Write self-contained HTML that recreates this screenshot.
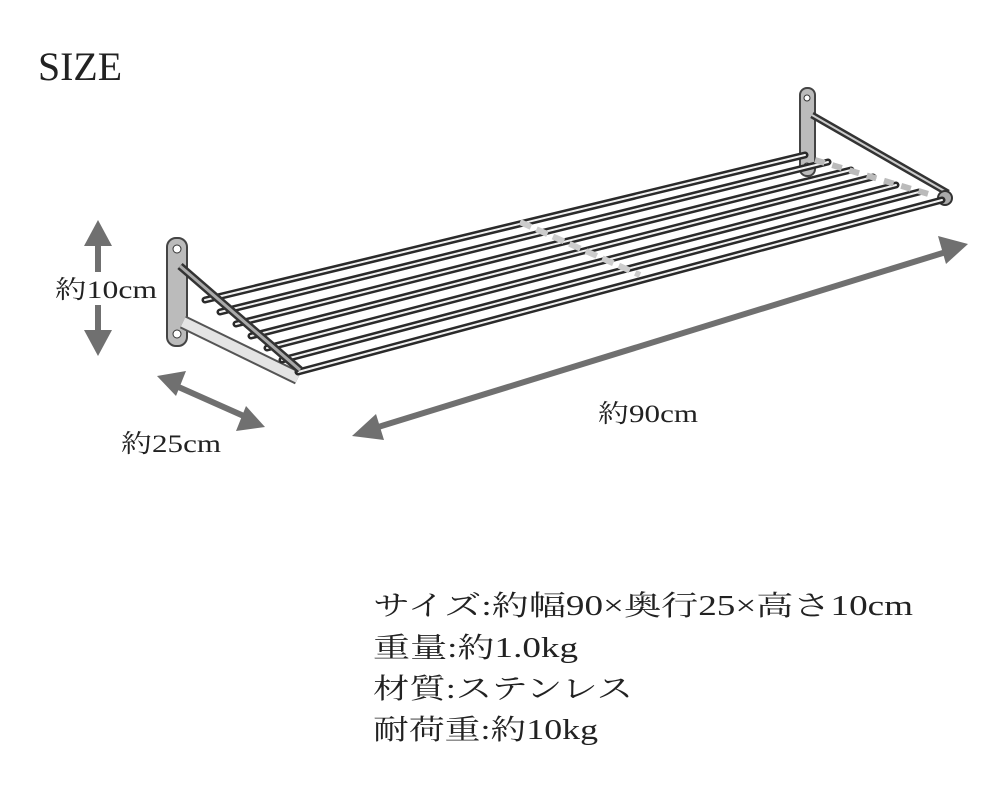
<!DOCTYPE html>
<html><head><meta charset="utf-8"><style>
html,body{margin:0;padding:0;background:#fff;}
svg{display:block}
text{font-family:"Liberation Serif","Noto Serif CJK JP",serif;fill:#222;}
</style></head><body>
<svg width="1000" height="800" viewBox="0 0 1000 800">
<text x="38" y="80" font-size="40" textLength="84" lengthAdjust="spacingAndGlyphs">SIZE</text>

<!-- right bracket -->
<rect x="800" y="88" width="15" height="88" rx="7" fill="#bbb" stroke="#444" stroke-width="2"/>
<circle cx="807" cy="98" r="3" fill="#fff" stroke="#333"/>
<circle cx="807" cy="166" r="3" fill="#fff" stroke="#333"/>
<line x1="812" y1="115" x2="948" y2="193" stroke="#333" stroke-width="7"/>
<line x1="812" y1="115" x2="948" y2="193" stroke="#ccc" stroke-width="2"/>
<circle cx="945" cy="198" r="7" fill="#aaa" stroke="#333" stroke-width="2"/>

<!-- left bracket plate -->
<rect x="167" y="238" width="20" height="108" rx="9" fill="#bbb" stroke="#444" stroke-width="2"/>
<circle cx="177" cy="249" r="4" fill="#fff" stroke="#333"/>
<circle cx="177" cy="334" r="4" fill="#fff" stroke="#333"/>
<line x1="183" y1="322" x2="298" y2="378" stroke="#555" stroke-width="14"/>
<line x1="183" y1="322" x2="298" y2="378" stroke="#e4e4e4" stroke-width="10"/>

<!-- rods -->
<g stroke-linecap="round">
<g stroke="#2a2a2a" stroke-width="7">
<line x1="205" y1="300" x2="805" y2="155"/>
<line x1="220" y1="312" x2="828" y2="162"/>
<line x1="236" y1="324" x2="851" y2="170"/>
<line x1="251" y1="336" x2="873" y2="177"/>
<line x1="267" y1="348" x2="896" y2="185"/>
<line x1="282" y1="360" x2="919" y2="192"/>
<line x1="298" y1="372" x2="942" y2="200"/>
</g>
<g stroke="#f2f2f2" stroke-width="2">
<line x1="205" y1="300" x2="805" y2="155"/>
<line x1="220" y1="312" x2="828" y2="162"/>
<line x1="236" y1="324" x2="851" y2="170"/>
<line x1="251" y1="336" x2="873" y2="177"/>
<line x1="267" y1="348" x2="896" y2="185"/>
<line x1="282" y1="360" x2="919" y2="192"/>
<line x1="298" y1="372" x2="942" y2="200"/>
</g>
</g>
<line x1="520" y1="222" x2="640" y2="275" stroke="#ccc" stroke-width="6" stroke-dasharray="12 6"/>
<line x1="815" y1="160" x2="935" y2="196" stroke="#bbb" stroke-width="6" stroke-dasharray="10 8"/>
<line x1="180" y1="266" x2="300" y2="370" stroke="#333" stroke-width="8"/>
<line x1="180" y1="266" x2="300" y2="370" stroke="#aaa" stroke-width="3"/>

<!-- arrows -->
<g fill="#707070" stroke="#707070">
<line x1="98" y1="240" x2="98" y2="272" stroke-width="6"/>
<polygon points="84,246 98,220 112,246" stroke="none"/>
<line x1="98" y1="305" x2="98" y2="336" stroke-width="6"/>
<polygon points="84,330 98,356 112,330" stroke="none"/>
<line x1="174" y1="385" x2="246" y2="417" stroke-width="6"/>
<polygon points="157,376 186,371 176,396" stroke="none"/>
<polygon points="265,427 236,431 246,406" stroke="none"/>
<line x1="375" y1="428" x2="946" y2="252" stroke-width="6"/>
<polygon points="352,436 376,414 384,440" stroke="none"/>
<polygon points="968,244 938,236 946,264" stroke="none"/>
</g>

<text x="55" y="298" font-size="25" textLength="102" lengthAdjust="spacingAndGlyphs">約10cm</text>
<text x="121" y="452" font-size="25" textLength="100" lengthAdjust="spacingAndGlyphs">約25cm</text>
<text x="598" y="422" font-size="25" textLength="100" lengthAdjust="spacingAndGlyphs">約90cm</text>

<text x="373" y="615" font-size="28" textLength="540" lengthAdjust="spacingAndGlyphs">サイズ:約幅90×奥行25×高さ10cm</text>
<text x="373" y="657" font-size="28" textLength="205" lengthAdjust="spacingAndGlyphs">重量:約1.0kg</text>
<text x="373" y="698" font-size="28" textLength="260" lengthAdjust="spacingAndGlyphs">材質:ステンレス</text>
<text x="373" y="739" font-size="28" textLength="225" lengthAdjust="spacingAndGlyphs">耐荷重:約10kg</text>
</svg>
</body></html>
